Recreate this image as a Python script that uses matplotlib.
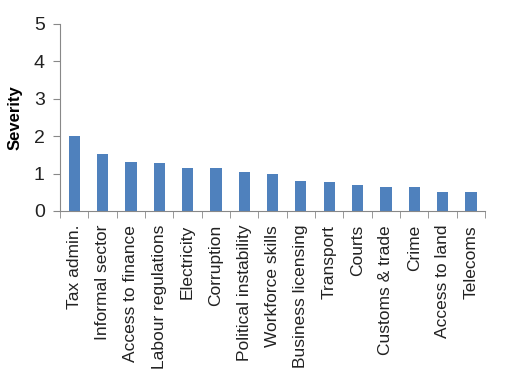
import matplotlib
matplotlib.use("Agg")
import matplotlib.pyplot as plt
import numpy as np

categories = ["Tax admin.", "Informal sector", "Access to finance", "Labour regulations",
              "Electricity", "Corruption", "Political instability", "Workforce skills",
              "Business licensing", "Transport", "Courts", "Customs & trade", "Crime",
              "Access to land", "Telecoms"]
severity = [2.0, 1.53, 1.31, 1.28, 1.15, 1.15, 1.04, 1.0, 0.80, 0.78, 0.70, 0.64, 0.64, 0.51, 0.51]

plt.rcParams['font.family'] = ['Liberation Sans', 'DejaVu Sans']

fig = plt.figure(figsize=(5.09, 3.85), dpi=100)
ax = fig.add_axes([60/509, 1-211/385, 425/509, 187/385])

x = np.arange(len(categories))
ax.bar(x, severity, width=0.4, color='#4F81BD')

ax.set_xlim(-0.5, len(categories)-0.5)
ax.set_ylim(0, 5)
ax.set_yticks(range(6))
ax.set_xticks(x)
ax.set_xticklabels(categories, rotation=90, fontsize=12.5, color='#222222')
ax.tick_params(axis='x', length=0, pad=10)
ax.set_xticks(np.arange(-0.5, len(categories)), minor=True)
ax.tick_params(axis='x', which='minor', length=5, color='#888888', direction='out')
ax.tick_params(axis='y', labelsize=14, length=5, color='#888888', labelcolor='#222222', pad=6)
ax.set_ylabel("Severity", fontsize=12, fontweight='bold', labelpad=8)

for s in ['top', 'right']:
    ax.spines[s].set_visible(False)
for s in ['left', 'bottom']:
    ax.spines[s].set_color('#888888')

fig.savefig("out.png", dpi=100)
